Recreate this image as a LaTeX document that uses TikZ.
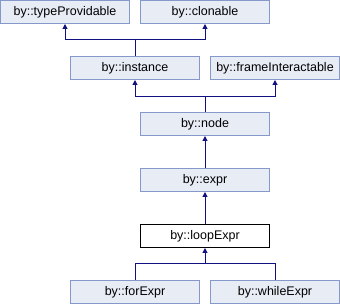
\documentclass[tikz,border=0pt]{standalone}
\usepackage{fontspec}
\setmainfont{Liberation Sans}
\usetikzlibrary{arrows.meta}
\definecolor{boxfill}{RGB}{232,236,245}
\definecolor{boxline}{RGB}{132,152,204}
\definecolor{edgecol}{RGB}{16,16,128}
\begin{document}
\begin{tikzpicture}[x=1pt,y=-1pt,
  cls/.style={draw=boxline,fill=boxfill,line width=1pt,minimum width=129pt,minimum height=23pt,inner sep=0pt,font=\fontsize{12.5}{14}\selectfont},
  cur/.style={cls,draw=black,fill=white},
  link/.style={draw=edgecol,line width=1pt},
  inh/.style={link,-{Triangle[width=5pt,length=5pt]}}]
\useasboundingbox (0,0) rectangle (340,304);
\node[cls] (typeProvidable) at (65,12) {by::typeProvidable};
\node[cls] (clonable) at (205,12) {by::clonable};
\node[cls] (instance) at (135,68) {by::instance};
\node[cls] (frameInteractable) at (275,68) {by::frameInteractable};
\node[cls] (node) at (205,124) {by::node};
\node[cls] (expr) at (205,180) {by::expr};
\node[cur] (loopExpr) at (205,236) {by::loopExpr};
\node[cls] (forExpr) at (135,292) {by::forExpr};
\node[cls] (whileExpr) at (275,292) {by::whileExpr};
\coordinate (j1) at (135,40);
\coordinate (j2) at (205,97);
\coordinate (j3) at (205,264);
\draw[link] (instance.north) -- (j1);
\draw[inh] (j1) -| (typeProvidable.south);
\draw[inh] (j1) -| (clonable.south);
\draw[link] (node.north) -- (j2);
\draw[inh] (j2) -| (instance.south);
\draw[inh] (j2) -| (frameInteractable.south);
\draw[inh] (expr.north) -- (node.south);
\draw[inh] (loopExpr.north) -- (expr.south);
\draw[link] (forExpr.north) |- (j3);
\draw[link] (whileExpr.north) |- (j3);
\draw[inh] (j3) -- (loopExpr.south);
\end{tikzpicture}
\end{document}
